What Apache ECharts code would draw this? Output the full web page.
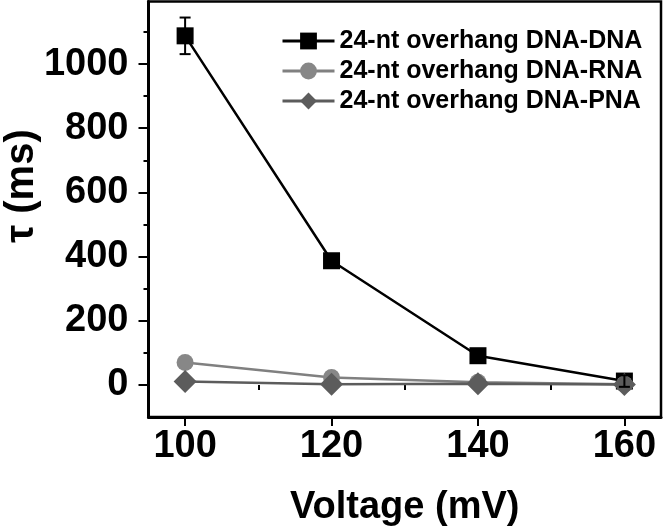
<!DOCTYPE html>
<html>
<head>
<meta charset="utf-8">
<script src="https://cdn.jsdelivr.net/npm/echarts@6/dist/echarts.min.js"></script>
<style>html,body{margin:0;padding:0;background:#fff;}#c{width:664px;height:532px;}</style>
</head>
<body>
<div id="c"></div>
<script>
// Data
const voltages = [100, 120, 140, 160];
const dnaDna = [1088, 387, 91, 12];
const dnaDnaErr = [57, 8, 10, 18];
const dnaRna = [70, 23, 8, 2];
const dnaPna = [11, 2, 4, 1];
const seriesNames = ['24-nt overhang DNA-DNA', '24-nt overhang DNA-RNA', '24-nt overhang DNA-PNA'];
const yMajor = [0, 200, 400, 600, 800, 1000];
const yMinor = [100, 300, 500, 700, 900, 1100];
const xMajor = [100, 120, 140, 160];
const xMinor = [110, 130, 150];

const FONT = '"Liberation Sans", Arial, sans-serif';
const pair = (xs, ys) => xs.map((x, i) => [x, ys[i]]);
const errData = voltages.map((x, i) => [x, dnaDna[i] - dnaDnaErr[i], dnaDna[i] + dnaDnaErr[i]]);

const chart = echarts.init(document.getElementById('c'), null, {renderer: 'canvas'});
const yBase = {type: 'value', min: -100, max: 1195, splitLine: {show: false}, position: 'left'};
const xBase = {type: 'value', min: 95, max: 165, splitLine: {show: false}, position: 'bottom'};
chart.setOption({
  animation: false,
  backgroundColor: '#fff',
  grid: {left: 148.5, right: 3, top: 1.5, bottom: 115, show: true, borderColor: '#000', borderWidth: 2.5, backgroundColor: 'transparent'},
  xAxis: [
    Object.assign({}, xBase, {
      name: 'Voltage (mV)', nameLocation: 'middle', nameGap: 72,
      nameTextStyle: {fontFamily: FONT, fontWeight: 'bold', fontSize: 38, color: '#000'},
      axisLine: {show: true, onZero: false, lineStyle: {color: '#000', width: 3}},
      axisTick: {show: true, inside: false, customValues: xMajor, length: 9, lineStyle: {color: '#000', width: 2}},
      axisLabel: {customValues: xMajor, formatter: v => String(v), fontFamily: FONT, fontWeight: 'bold', fontSize: 38, color: '#000', margin: 11}
    }),
    Object.assign({}, xBase, {
      axisLine: {show: false},
      axisTick: {show: true, inside: false, customValues: xMinor, length: 5, lineStyle: {color: '#000', width: 2}},
      axisLabel: {show: false, customValues: xMinor}
    })
  ],
  yAxis: [
    Object.assign({}, yBase, {
      axisLine: {show: true, onZero: false, lineStyle: {color: '#000', width: 3}},
      axisTick: {show: true, inside: false, customValues: yMajor, length: 10, lineStyle: {color: '#000', width: 2}},
      axisLabel: {customValues: yMajor, formatter: v => String(v), fontFamily: FONT, fontWeight: 'bold', fontSize: 38, color: '#000', margin: 20}
    }),
    Object.assign({}, yBase, {
      axisLine: {show: false},
      axisTick: {show: true, inside: false, customValues: yMinor, length: 5, lineStyle: {color: '#000', width: 2}},
      axisLabel: {show: false, customValues: yMinor}
    })
  ],
  graphic: [{
    type: 'text', x: 22, y: 186, rotation: Math.PI / 2,
    style: {text: 'τ (ms)', fontFamily: FONT, fontWeight: 'bold', fontSize: 40, fill: '#000', align: 'center', verticalAlign: 'middle'}
  }],
  legend: {
    left: 281, top: 26, padding: 0, orient: 'vertical', itemGap: 0, itemWidth: 52, itemHeight: 21,
    lineStyle: {width: 3},
    textStyle: {fontFamily: FONT, fontWeight: 'bold', fontSize: 25, color: '#000', lineHeight: 30},
    data: seriesNames
  },
  series: [
    {name: seriesNames[0], type: 'line', data: pair(voltages, dnaDna), symbol: 'rect', symbolSize: 17,
     itemStyle: {color: '#000'}, lineStyle: {color: '#000', width: 2.5}, z: 2},
    {name: seriesNames[1], type: 'line', data: pair(voltages, dnaRna), symbol: 'circle', symbolSize: 17,
     itemStyle: {color: '#878787'}, lineStyle: {color: '#808080', width: 2.5}, z: 3},
    {name: seriesNames[2], type: 'line', data: pair(voltages, dnaPna), symbol: 'diamond', symbolSize: 23,
     itemStyle: {color: '#5c5c5c'}, lineStyle: {color: '#5c5c5c', width: 2.5}, z: 4},
    {type: 'custom', data: errData, z: 5,
     renderItem: function (params, api) {
       const x = api.value(0);
       const top = api.coord([x, api.value(2)]);
       const bot = api.coord([x, api.value(1)]);
       const w = 5.5;
       const st = {stroke: '#000', lineWidth: 2};
       return {type: 'group', children: [
         {type: 'line', shape: {x1: top[0], y1: top[1], x2: bot[0], y2: bot[1]}, style: st},
         {type: 'line', shape: {x1: top[0] - w, y1: top[1], x2: top[0] + w, y2: top[1]}, style: st},
         {type: 'line', shape: {x1: bot[0] - w, y1: bot[1], x2: bot[0] + w, y2: bot[1]}, style: st}
       ]};
     }}
  ]
});
</script>
</body>
</html>
